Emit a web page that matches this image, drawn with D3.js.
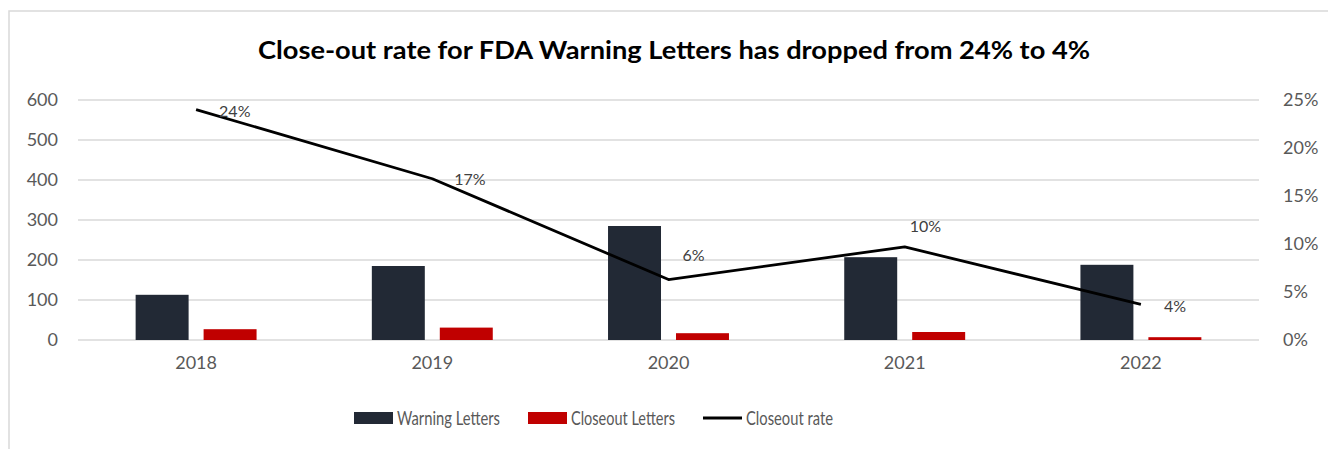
<!DOCTYPE html>
<html lang="en">
<head>
<meta charset="UTF-8">
<title>FDA Warning Letters close-out rate</title>
<script src="https://d3js.org/d3.v7.min.js"></script>
<style>
  html, body { margin: 0; padding: 0; background: #fff; }
  svg { display: block; font-family: Lato, "Open Sans", sans-serif; }
</style>
</head>
<body>
<svg id="chart" width="1328" height="449"></svg>
<script>
// data
const years = ["2018", "2019", "2020", "2021", "2022"];
const warningLetters = [113, 185, 285, 207, 188];
const closeoutLetters = [27, 31, 17, 20, 7];
const closeoutRate = [0.24, 0.168, 0.063, 0.097, 0.037];
const rateLabels = ["24%", "17%", "6%", "10%", "4%"];
const countTicks = [0, 100, 200, 300, 400, 500, 600];
const rateTicks = [0, 0.05, 0.10, 0.15, 0.20, 0.25];

// label nudges relative to each line point (layout only)
const labelNudge = [[23, 2], [22, 1], [14, -24], [5, -20], [23, 2]];

const svg = d3.select("#chart");

// chart frame
svg.append("path")
  .attr("d", "M9,449 L9,11 L1328,11")
  .attr("fill", "none")
  .attr("stroke", "#d9d9d9")
  .attr("stroke-width", 1.5);

// title
svg.append("text")
  .attr("x", 674).attr("y", 59)
  .attr("text-anchor", "middle")
  .attr("font-size", 24)
  .attr("font-weight", 700)
  .attr("fill", "#000")
  .attr("textLength", 832)
  .attr("lengthAdjust", "spacingAndGlyphs")
  .text("Close-out rate for FDA Warning Letters has dropped from 24% to 4%");

const plot = { left: 78, right: 1259, top: 100, bottom: 340 };

const x = d3.scaleBand().domain(years).range([plot.left, plot.right]);
const groupW = x.bandwidth() * 0.512;
const x1 = d3.scaleBand()
  .domain(["w", "c"])
  .range([(x.bandwidth() - groupW) / 2, (x.bandwidth() + groupW) / 2])
  .paddingInner(0.2206);

const yL = d3.scaleLinear().domain([0, 600]).range([plot.bottom, plot.top]);
const yR = d3.scaleLinear().domain([0, 0.25]).range([plot.bottom, plot.top]);

// gridlines
svg.append("g")
  .selectAll("line")
  .data(countTicks)
  .join("line")
  .attr("x1", plot.left).attr("x2", plot.right)
  .attr("y1", d => yL(d)).attr("y2", d => yL(d))
  .attr("stroke", "#d9d9d9")
  .attr("stroke-width", 1.3);

function styleAxis(g) {
  g.select(".domain").remove();
  g.selectAll("text")
    .attr("font-size", 18).attr("fill", "#595959")
    .attr("font-family", "Lato, 'Open Sans', sans-serif");
}

// left axis
svg.append("g")
  .attr("transform", `translate(${plot.left - 20},0)`)
  .call(d3.axisLeft(yL).tickValues(countTicks).tickSize(0).tickPadding(0))
  .call(styleAxis);

// right axis
svg.append("g")
  .attr("transform", `translate(${plot.right + 24},0)`)
  .call(d3.axisRight(yR).tickValues(rateTicks).tickSize(0).tickPadding(0)
    .tickFormat(d3.format(".0%")))
  .call(styleAxis);

// category axis
svg.append("g")
  .attr("transform", `translate(0,${plot.bottom + 16})`)
  .call(d3.axisBottom(x).tickSize(0).tickPadding(0))
  .call(styleAxis);

// bars
const groups = svg.append("g")
  .selectAll("g")
  .data(years)
  .join("g")
  .attr("transform", d => `translate(${x(d)},0)`);

groups.append("rect")
  .attr("x", x1("w"))
  .attr("width", x1.bandwidth())
  .attr("y", (d, i) => yL(warningLetters[i]))
  .attr("height", (d, i) => yL(0) - yL(warningLetters[i]))
  .attr("fill", "#222935");

groups.append("rect")
  .attr("x", x1("c"))
  .attr("width", x1.bandwidth())
  .attr("y", (d, i) => yL(closeoutLetters[i]))
  .attr("height", (d, i) => yL(0) - yL(closeoutLetters[i]))
  .attr("fill", "#c00000");

// rate line
const cx = d => x(d) + x.bandwidth() / 2;
const line = d3.line()
  .x((d, i) => cx(years[i]))
  .y(d => yR(d));

svg.append("path")
  .datum(closeoutRate)
  .attr("d", line)
  .attr("fill", "none")
  .attr("stroke", "#000")
  .attr("stroke-width", 2.8)
  .attr("stroke-linejoin", "round");

svg.append("g")
  .selectAll("text")
  .data(closeoutRate)
  .join("text")
  .attr("x", (d, i) => cx(years[i]) + labelNudge[i][0])
  .attr("y", (d, i) => yR(d) + labelNudge[i][1])
  .attr("dy", "0.35em")
  .attr("font-size", 16)
  .attr("fill", "#404040")
  .text((d, i) => rateLabels[i]);

// legend
const legend = svg.append("g").attr("transform", "translate(0,418)");
const legendItems = [
  { name: "Warning Letters", type: "rect", color: "#222935", x: 354, w: 103 },
  { name: "Closeout Letters", type: "rect", color: "#c00000", x: 528, w: 104 },
  { name: "Closeout rate", type: "line", color: "#000", x: 703, w: 87 }
];
legendItems.forEach(item => {
  if (item.type === "rect") {
    legend.append("rect")
      .attr("x", item.x).attr("y", -6)
      .attr("width", 39).attr("height", 12)
      .attr("fill", item.color);
  } else {
    legend.append("line")
      .attr("x1", item.x).attr("x2", item.x + 39)
      .attr("y1", 0).attr("y2", 0)
      .attr("stroke", item.color).attr("stroke-width", 2.8);
  }
  legend.append("text")
    .attr("x", item.x + 43).attr("y", 0)
    .attr("dy", "0.35em")
    .attr("font-size", 19)
    .attr("fill", "#595959")
    .attr("textLength", item.w)
    .attr("lengthAdjust", "spacingAndGlyphs")
    .text(item.name);
});
</script>
</body>
</html>
